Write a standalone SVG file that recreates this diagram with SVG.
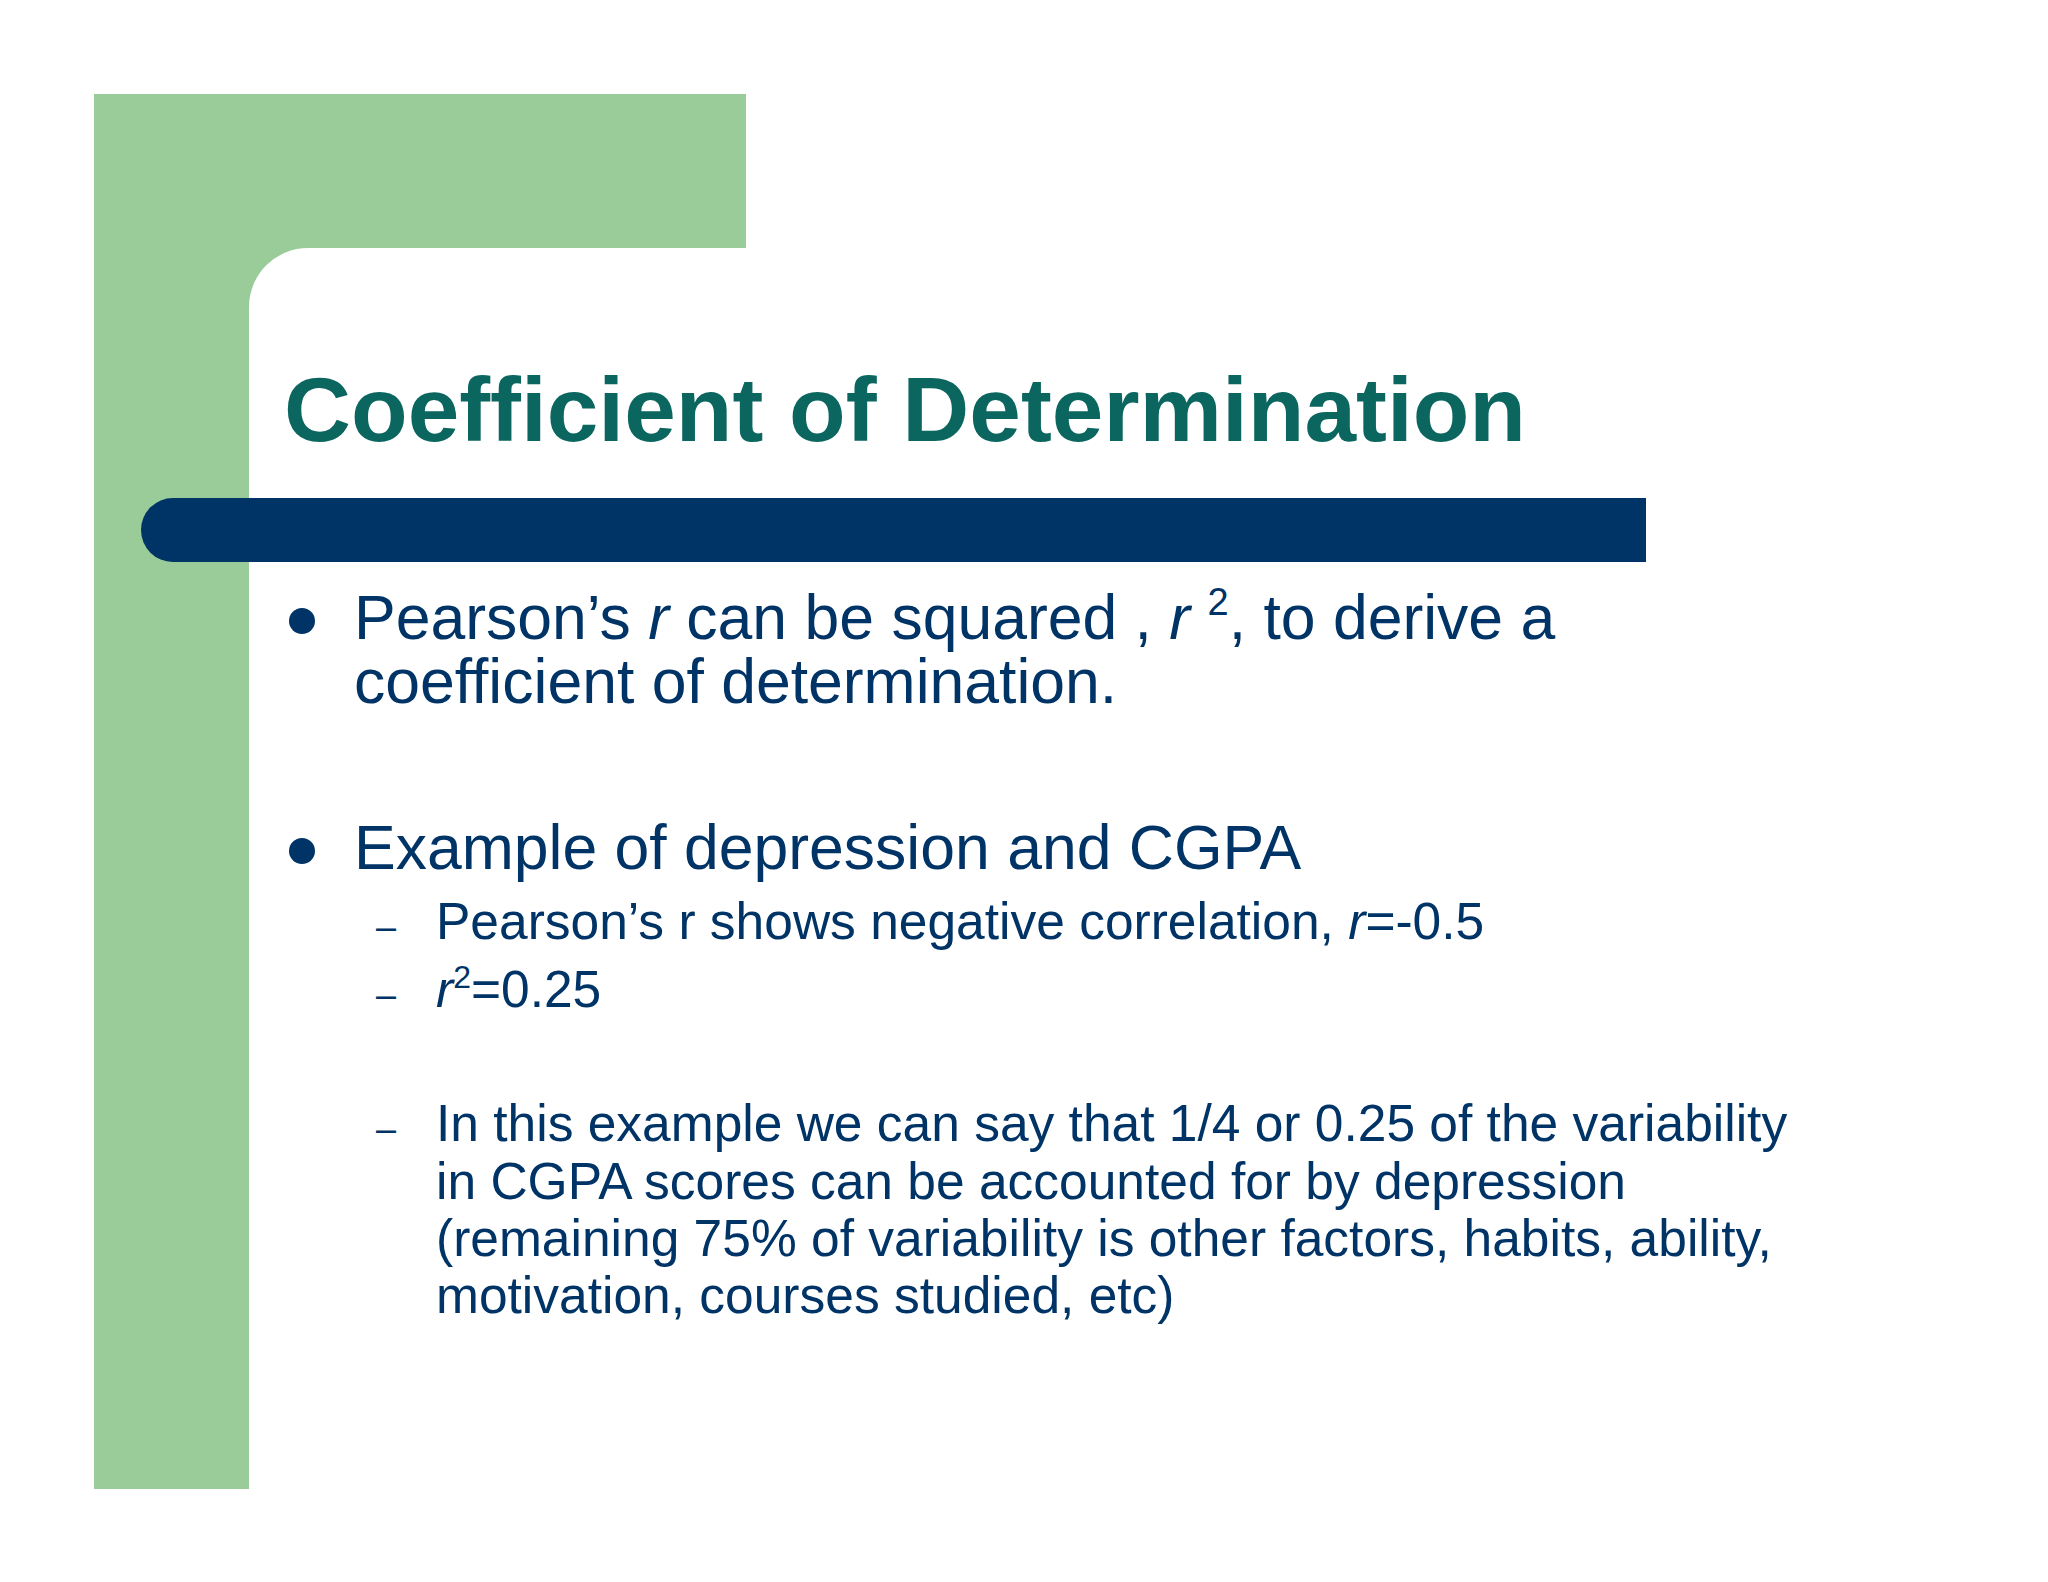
<svg xmlns="http://www.w3.org/2000/svg" width="2048" height="1582" viewBox="0 0 2048 1582">
<style>
.t{font-family:"Liberation Sans",Arial,sans-serif;fill:#003366}
.b{font-size:62.5px}
.s{font-size:51.5px}
.d{font-size:36px}
</style>
<rect width="2048" height="1582" fill="#fff"/>
<g id="bg">
<path d="M94 94H746V248H308A59 59 0 0 0 249 307V1489H94Z" fill="#99CC99"/>
<path d="M173 498H1646V562H173A32 32 0 0 1 173 498Z" fill="#003366"/>
</g>
<g id="title"><text x="284" y="441" font-family="Liberation Sans,Arial,sans-serif" font-weight="bold" font-size="90" fill="#0B6660" textLength="1242" lengthAdjust="spacingAndGlyphs">Coefficient of Determination</text></g>
<g id="body" class="t">
<circle cx="302" cy="621" r="13" fill="#003366"/>
<text class="t b" x="354" y="639">Pearson’s <tspan font-style="italic">r</tspan> can be squared , <tspan font-style="italic">r</tspan> <tspan font-size="38" dy="-24">2</tspan><tspan dy="24">, to derive a</tspan></text>
<text class="t b" x="354" y="703">coefficient of determination.</text>
<circle cx="302" cy="851" r="13" fill="#003366"/>
<text class="t b" x="354" y="869">Example of depression and CGPA</text>
<text class="t d" x="376" y="939">–</text>
<text class="t s" x="436" y="939">Pearson’s r shows negative correlation, <tspan font-style="italic">r</tspan>=-0.5</text>
<text class="t d" x="376" y="1007">–</text>
<text class="t s" x="436" y="1007"><tspan font-style="italic">r</tspan><tspan font-size="32" dy="-19">2</tspan><tspan dy="19">=0.25</tspan></text>
<text class="t d" x="376" y="1141">–</text>
<text class="t s" x="436" y="1141">In this example we can say that 1/4 or 0.25 of the variability</text>
<text class="t s" x="436" y="1199">in CGPA scores can be accounted for by depression</text>
<text class="t s" x="436" y="1256">(remaining 75% of variability is other factors, habits, ability,</text>
<text class="t s" x="436" y="1313">motivation, courses studied, etc)</text>
</g>
</svg>
